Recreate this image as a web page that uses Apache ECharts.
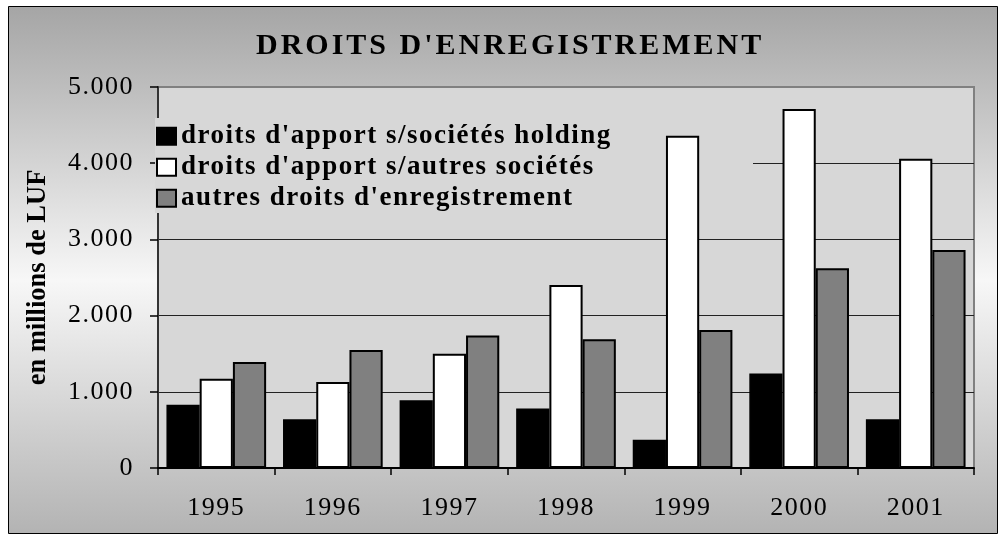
<!DOCTYPE html>
<html><head><meta charset="utf-8">
<script src="https://cdn.jsdelivr.net/npm/echarts@6/dist/echarts.min.js"></script>
<style>html,body{margin:0;padding:0;background:#fff}#c{width:1005px;height:539px}</style>
</head><body><div id="c"></div>
<script>
const categories = ['1995', '1996', '1997', '1998', '1999', '2000', '2001'];
const seriesNames = ["droits d'apport s/sociétés holding", "droits d'apport s/autres sociétés", "autres droits d'enregistrement"];
const holding = [830, 640, 890, 780, 370, 1240, 640];
const autresSocietes = [1170, 1130, 1500, 2400, 4360, 4710, 4060];
const autresDroits = [1390, 1550, 1740, 1690, 1810, 2620, 2860];
const yTickLabels = ['0', '1.000', '2.000', '3.000', '4.000', '5.000'];
const titleText = "DROITS D'ENREGISTREMENT";
const yAxisName = 'en millions de LUF';

// letter spacing for the widely spaced serif texts of the original
(function () {
  const P = CanvasRenderingContext2D.prototype;
  if (!('letterSpacing' in P)) return;
  function sp(font) {
    const m = /(\d+(?:\.\d+)?)px/.exec(font || '');
    if (!m) return 0;
    const size = parseFloat(m[1]);
    const bold = /bold|700/.test(font);
    if (bold && size === 30) return 3;
    if (bold && size === 27) return 1.5;
    if (!bold && size === 26) return 1.5;
    return 0;
  }
  ['fillText', 'strokeText', 'measureText'].forEach(function (fn) {
    const o = P[fn];
    P[fn] = function () { this.letterSpacing = sp(this.font) + 'px'; return o.apply(this, arguments); };
  });
})();

const FONT = "'Liberation Serif', 'Times New Roman', serif";
const plotBg = '#d7d7d7';
const chart = echarts.init(document.getElementById('c'), null, { renderer: 'canvas' });

const barStyles = [
  { color: '#000000', borderColor: '#000000', borderWidth: 1.5 },
  { color: '#ffffff', borderColor: '#000000', borderWidth: 2 },
  { color: '#808080', borderColor: '#000000', borderWidth: 2 }
];
const seriesData = [holding, autresSocietes, autresDroits];

chart.setOption({
  animation: false,
  graphic: [{
    type: 'rect', z: -10, silent: true,
    shape: { x: 8.5, y: 6.5, width: 989, height: 527 },
    style: {
      stroke: '#000', lineWidth: 1,
      fill: {
        type: 'linear', x: 0, y: 0, x2: 0, y2: 1,
        colorStops: [
          { offset: 0, color: '#a5a5a5' },
          { offset: 0.52, color: '#f7f7f7' },
          { offset: 1, color: '#b3b3b3' }
        ]
      }
    }
  }, {
    // legend box: hides gridline and axis line behind the legend, drawn below the bars
    type: 'rect', z: 1, silent: true,
    shape: { x: 155, y: 118, width: 598, height: 95 },
    style: { fill: plotBg }
  }],
  title: {
    text: titleText, left: 251, top: 25,
    textStyle: { fontFamily: FONT, fontSize: 30, fontWeight: 'bold', color: '#000' }
  },
  legend: {
    orient: 'vertical', left: 155, top: 118,
    padding: [4, 148, 6, 1],
    itemWidth: 19, itemHeight: 17, itemGap: 2.5,
    icon: 'rect',
    textStyle: { fontFamily: FONT, fontSize: 27, fontWeight: 'bold', color: '#000' },
    data: seriesNames
  },
  grid: {
    left: 158, right: 31, top: 87, bottom: 71,
    show: true, backgroundColor: plotBg, borderColor: '#808080', borderWidth: 2
  },
  xAxis: {
    type: 'category', data: categories,
    axisLine: { show: true, lineStyle: { color: '#000', width: 2 } },
    axisTick: { show: true, length: 7, lineStyle: { color: '#000', width: 1.5 } },
    axisLabel: { fontFamily: FONT, fontSize: 26, color: '#000', margin: 26 },
    splitLine: { show: false }
  },
  yAxis: {
    type: 'value', min: 0, max: 5000, interval: 1000,
    name: yAxisName, nameLocation: 'middle', nameGap: 106, nameRotate: 90,
    nameTextStyle: { fontFamily: FONT, fontSize: 26.5, fontWeight: 'bold', color: '#000' },
    axisLine: { show: true, lineStyle: { color: '#333', width: 2 } },
    axisTick: { show: true, length: 8, lineStyle: { color: '#000', width: 1.5 } },
    axisLabel: {
      fontFamily: FONT, fontSize: 26, color: '#000', margin: 24,
      formatter: function (v) { return yTickLabels[Math.round(v / 1000)]; }
    },
    splitLine: { show: true, lineStyle: { color: ['#222', '#222', '#222', '#222', '#222', '#808080'], width: 1 } }
  },
  series: seriesNames.map(function (name, i) {
    return {
      name: name, type: 'bar', data: seriesData[i],
      barGap: '0%', barCategoryGap: '14.5%',
      itemStyle: barStyles[i]
    };
  })
});
</script></body></html>
